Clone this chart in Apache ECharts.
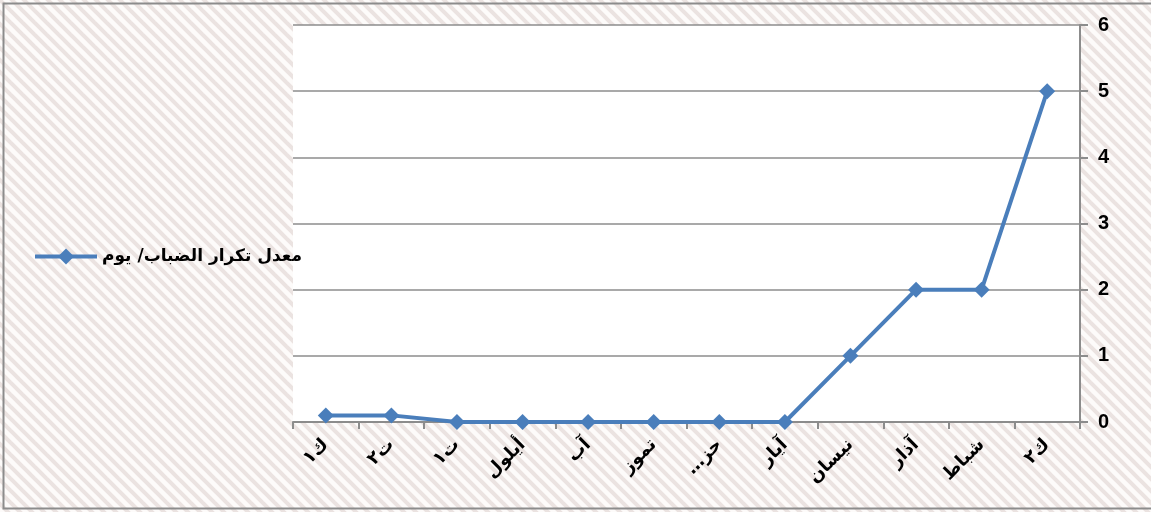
<!DOCTYPE html>
<html>
<head>
<meta charset="utf-8">
<script src="https://cdn.jsdelivr.net/npm/echarts@6/dist/echarts.min.js"></script>
<style>
  html, body { margin: 0; padding: 0; background: #fff; }
  #chart { width: 1151px; height: 512px; }
</style>
</head>
<body>
<div id="chart"></div>
<script>
// الأشهر (المحور معكوس: ك٢ على اليمين)
const months = ['ك٢', 'شباط', 'آذار', 'نيسان', 'آيار', 'حز…\u200F', 'تموز', 'آب', 'أيلول', 'ت١', 'ت٢', 'ك١']
const fogDays = [5, 2, 2, 1, 0, 0, 0, 0, 0, 0, 0.1, 0.1]
const yTicks = [0, 1, 2, 3, 4, 5, 6]
const seriesName = 'معدل تكرار الضباب/ يوم'

// خلفية مخططة
const tile = document.createElement('canvas')
tile.width = 12
tile.height = 12
const ctx = tile.getContext('2d')
ctx.fillStyle = '#fdfbfa'
ctx.fillRect(0, 0, 12, 12)
ctx.strokeStyle = '#ebe3e1'
ctx.lineWidth = 4
for (let k = -1; k <= 1; k++) {
    ctx.beginPath()
    ctx.moveTo(k * 12 - 2, -2)
    ctx.lineTo(k * 12 + 14, 14)
    ctx.stroke()
}

const chart = echarts.init(document.getElementById('chart'))
chart.setOption({
    backgroundColor: { image: tile, repeat: 'repeat' },
    animation: false,
    graphic: [{
        type: 'rect',
        shape: { x: 3.5, y: 3.5, width: 1150, height: 505 },
        style: { fill: 'none', stroke: '#8c8c8c', lineWidth: 2 },
        silent: true
    }],
    legend: {
        left: 28,
        top: 243,
        orient: 'vertical',
        itemWidth: 62,
        itemHeight: 20,
        itemGap: 6,
        lineStyle: { width: 4 },
        textStyle: { fontFamily: 'DejaVu Sans', fontWeight: 'bold', fontSize: 17, color: '#000' },
        data: [seriesName]
    },
    grid: {
        left: 293,
        right: 71,
        top: 25,
        bottom: 90,
        show: true,
        backgroundColor: '#fff',
        borderWidth: 0
    },
    xAxis: {
        type: 'category',
        data: months,
        inverse: true,
        boundaryGap: true,
        axisLine: { lineStyle: { color: '#8c8c8c', width: 2 } },
        axisTick: { show: true, length: 7, lineStyle: { color: '#8c8c8c', width: 2 } },
        axisLabel: {
            rotate: 45,
            margin: 20,
            interval: 0,
            color: '#000',
            fontFamily: 'DejaVu Sans',
            fontWeight: 'bold',
            fontSize: 18
        }
    },
    yAxis: {
        type: 'value',
        position: 'right',
        min: yTicks[0],
        max: yTicks[yTicks.length - 1],
        interval: 1,
        axisLine: { show: true, lineStyle: { color: '#8c8c8c', width: 2 } },
        axisTick: { show: true, length: 8, lineStyle: { color: '#8c8c8c', width: 2 } },
        splitLine: { lineStyle: { color: '#8c8c8c', width: 1.5 } },
        axisLabel: {
            margin: 18,
            color: '#000',
            fontFamily: 'Liberation Sans',
            fontWeight: 'bold',
            fontSize: 20
        }
    },
    series: [{
        name: seriesName,
        type: 'line',
        data: fogDays,
        symbol: 'diamond',
        symbolSize: 16,
        lineStyle: { color: '#4a7ebb', width: 4 },
        itemStyle: { color: '#4a7ebb' }
    }]
})
</script>
</body>
</html>
